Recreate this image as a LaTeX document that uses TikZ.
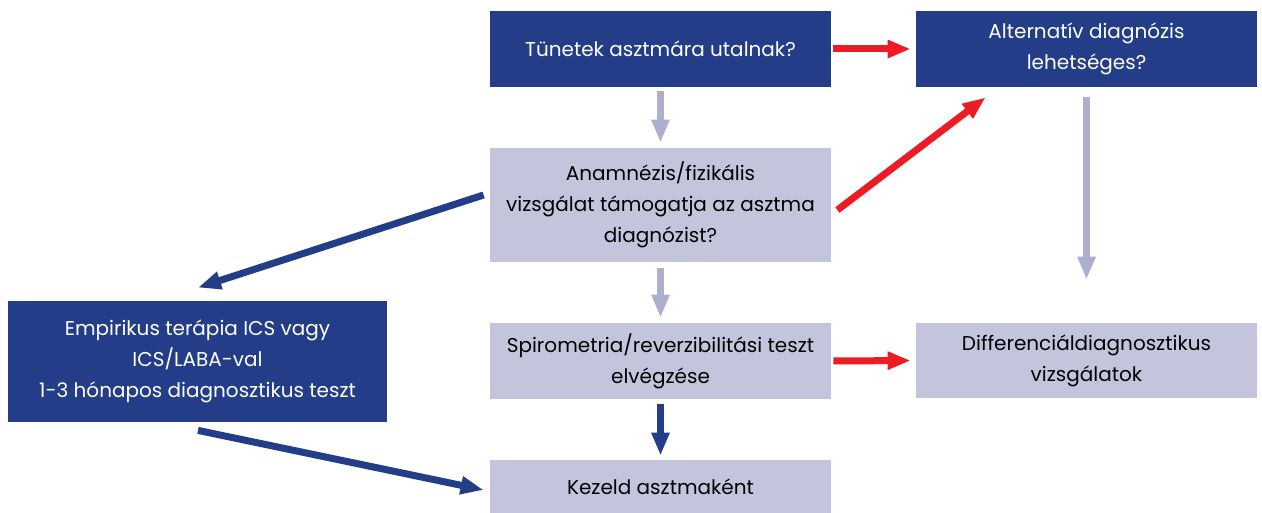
\documentclass[tikz,border=0pt]{standalone}
\usepackage{fontspec}
\setmainfont{Poppins}
\usetikzlibrary{arrows.meta,calc}
\definecolor{dblue}{RGB}{35,61,136}
\definecolor{lav}{RGB}{196,197,221}
\definecolor{lavarrow}{RGB}{173,175,208}
\definecolor{arrred}{RGB}{236,28,36}
\tikzset{
  box/.style={inner sep=0pt, align=center, minimum width=170.5pt, font=\fontsize{10}{15.5}\selectfont},
  darkbox/.style={box, fill=dblue, text=white},
  lightbox/.style={box, fill=lav, text=black},
  flow/.style={line width=3.5pt, -{Triangle[length=11.5pt,width=8.5pt]}},
}
\begin{document}
\begin{tikzpicture}[x=0.5pt, y=-0.5pt]
\useasboundingbox (0,0) rectangle (1262,513);
\node[darkbox, minimum height=38pt] (tunet) at (660.5,49) {T\"unetek asztm\'ara utalnak?};
\node[darkbox, minimum height=38pt] (altern) at (1086.5,49) {Alternat\'iv diagn\'ozis\\lehets\'eges?};
\node[lightbox, minimum height=57pt] (anamn) at (660.5,205) {Anamn\'ezis/fizik\'alis\\vizsg\'alat t\'amogatja az asztma\\diagn\'ozist?};
\node[darkbox, minimum width=189.5pt, minimum height=60.5pt] (empir) at (197.5,361.5) {Empirikus ter\'apia ICS vagy\\ICS/LABA-val\\1-3 h\'onapos diagnosztikus teszt};
\node[lightbox, minimum height=38pt] (spiro) at (660.5,361) {Spirometria/reverzibilit\'asi teszt\\elv\'egz\'ese};
\node[lightbox, minimum height=37.5pt] (diff) at (1086.5,360.5) {Differenci\'aldiagnosztikus\\vizsg\'alatok};
\node[lightbox, minimum height=26.5pt] (kezel) at (660.5,486.5) {Kezeld asztmak\'ent};
% szurke nyilak
\draw[flow, lavarrow, shorten <=2pt, shorten >=2.5pt] (tunet) -- (anamn);
\draw[flow, lavarrow, shorten <=3pt, shorten >=2.5pt] (anamn) -- (spiro);
\draw[flow, lavarrow, shorten <=5pt] (altern.south) -- ($(diff.north)+(0,-43)$);
% piros nyilak
\draw[flow, arrred, shorten <=1pt, shorten >=2.5pt] (tunet.east) -- (altern.west);
\draw[flow, arrred, shorten <=1pt, shorten >=2.5pt] (spiro.east) -- (diff.west);
\draw[flow, arrred] ($(anamn.east)+(6,5)$) -- ($(altern.south west)+(70,10)$);
% kek nyilak
\draw[flow, dblue] ($(anamn.west)+(-6,-10)$) -- ($(empir.north)+(0.5,-13)$);
\draw[flow, dblue] ($(empir.south)+(0.5,8)$) -- ($(kezel.west)+(-6,3.5)$);
\draw[flow, dblue, shorten <=2.5pt, shorten >=2pt] (spiro) -- (kezel);
\end{tikzpicture}
\end{document}
